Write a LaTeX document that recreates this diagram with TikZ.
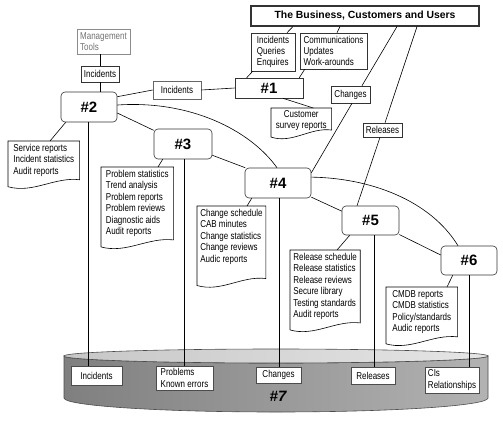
\documentclass[tikz,border=0pt]{standalone}
\usepackage{fontspec}
\setmainfont{Liberation Sans}[FakeStretch=0.8]
\newfontfamily\numfont{Liberation Sans}
\usetikzlibrary{calc}

\begin{document}
\begin{tikzpicture}[
    x=1pt, y=1pt,
    font=\fontsize{10}{11.4}\selectfont,
    line width=0.6pt,
    procnode/.style={rectangle, draw=black!80, fill=white, rounded corners=4pt, minimum width=57pt, minimum height=30pt, inner sep=0pt, font=\numfont\bfseries\fontsize{15}{17}\selectfont},
    flowbox/.style={rectangle, draw=black!80, fill=white, inner sep=2pt, align=left},
    docnode/.style={rectangle, anchor=north west, inner xsep=3pt, inner ysep=3pt, align=left},
    dbbox/.style={flowbox, draw=black!70}
]
\useasboundingbox (0,0) rectangle (503,-426);

\shadedraw[left color=black!50, middle color=black!34, right color=black!30, draw=black!70] (64,-356) -- (64,-398) arc[start angle=180, end angle=360, x radius=212, y radius=14] -- (488,-356) arc[start angle=0, end angle=-180, x radius=212, y radius=7] -- cycle;
\shadedraw[left color=black!22, right color=black!10, draw=black!70] (276,-356) ellipse[x radius=212, y radius=7];

\node[dbbox, minimum width=51pt, minimum height=19pt] (cinc) at (96.5,-375.5) {Incidents};
\node[dbbox, minimum width=57pt, minimum height=24pt] (cprb) at (184.5,-378) {Problems\\Known errors};
\node[dbbox, minimum width=45pt, minimum height=16pt] (cchg) at (278.5,-375) {Changes};
\node[dbbox, minimum width=44pt, minimum height=17pt] (crel) at (373,-375.5) {Releases};
\node[dbbox, minimum width=54pt, minimum height=26pt] (ccis) at (452,-380) {CIs\\Relationships};
\node[font=\numfont\bfseries\itshape\fontsize{15}{17}\selectfont] (n7) at (278,-396) {\#7};

\node[procnode, sharp corners, minimum width=68pt, minimum height=20pt] (n1) at (269,-88) {\#1};
\node[procnode, minimum width=56pt] (n2) at (89,-107) {\#2};
\node[procnode, minimum width=58pt] (n3) at (183,-144) {\#3};
\node[procnode, minimum width=66pt] (n4) at (278,-183) {\#4};
\node[procnode, minimum height=29pt] (n5) at (370.5,-220.5) {\#5};
\node[procnode, minimum width=56pt, minimum height=29pt] (n6) at (469,-260.5) {\#6};

\node[flowbox, draw=black!45, text=black!55, minimum width=53pt, minimum height=25pt] (mgmt) at (103.5,-41.5) {Management\\Tools};
\node[flowbox, minimum width=38pt, minimum height=16pt] (inc2) at (100,-74) {Incidents};
\node[flowbox, draw=black!60, minimum width=48pt, minimum height=18pt] (inc1) at (177,-90) {Incidents};
\node[flowbox, line width=1.1pt, minimum width=228pt, minimum height=20pt, font=\numfont\bfseries\fontsize{10.4}{12}\selectfont] (biz) at (365,-16) {The Business, Customers and Users};
\node[flowbox, minimum width=44pt, minimum height=38pt] (iqe) at (273,-52) {Incidents\\Queries\\Enquires};
\node[flowbox, minimum width=67pt, minimum height=36pt] (cuw) at (333.5,-51) {Communications\\Updates\\Work-arounds};
\node[flowbox, minimum width=39pt, minimum height=17pt] (chg) at (350.5,-94.5) {Changes};
\node[flowbox, minimum width=39pt, minimum height=14pt] (rel) at (382.5,-130) {Releases};

\node[docnode, align=center, minimum width=60pt, inner ysep=2pt] (cust) at (271,-108) {Customer\\survey reports};
\node[docnode, minimum width=71pt] (d2) at (8,-141) {Service reports\\Incident statistics\\Audit reports};
\node[docnode, minimum width=72pt] (d3) at (101,-167) {Problem statistics\\Trend analysis\\Problem reports\\Problem reviews\\Diagnostic aids\\Audit reports};
\node[docnode, minimum width=66pt] (d4) at (197,-206) {Change schedule\\CAB minutes\\Change statistics\\Change reviews\\Audic reports};
\node[docnode, minimum width=69pt] (d5) at (290,-250) {Release schedule\\Release statistics\\Release reviews\\Secure library\\Testing standards\\Audit reports};
\node[docnode, minimum width=71pt] (d6) at (386,-287) {CMDB reports\\CMDB statistics\\Policy/standards\\Audic reports};

\foreach \dd/\ext in {d2/0, d3/0, d4/-11, d5/0, d6/0, cust/3}
  \draw (\dd.north west) -- ($(\dd.south west)+(0,\ext-7)$) .. controls ($(\dd.south west)!0.35!(\dd.south east)+(0,\ext-14)$) and ($(\dd.south west)!0.65!(\dd.south east)+(0,\ext+3)$) .. ($(\dd.south east)+(0,\ext)$) -- (\dd.north east) -- cycle;

\draw (inc2.north |- mgmt.south) -- (inc2.north);
\draw (inc2.south) -- (inc2.south |- n2.north);
\draw (n2.20) -- (inc1.west);
\draw (inc1.east) -- (n1.west);
\draw (n2.-12) -- (n3.155);
\draw (n3.-21) -- (n4.155);
\draw (n4.-23) -- (n5.162);
\draw (n5.-26) -- (n6.169);
\draw (n2.4) .. controls (190,-100) and (250,-130) .. ([xshift=-1pt]n4.north);
\draw (n4.10) .. controls (370,-178) and (430,-200) .. ([xshift=-11pt]n6.north);

\draw ([xshift=14pt]iqe.north) -- ([xshift=-72pt]biz.south);
\draw ([xshift=3.5pt]cuw.north) -- ([xshift=-25pt]biz.south);
\draw ([xshift=2pt]iqe.south west) -- ([xshift=12pt]n1.north west);
\draw ([xshift=5pt]cuw.south west) -- ([xshift=-4pt]n1.north east);
\draw ([xshift=14pt]n1.south) -- ([xshift=12pt]cust.north);
\draw ([xshift=32pt]biz.south) -- ([xshift=11.5pt]chg.north);
\draw ([xshift=1.5pt]chg.south) -- (n4.17);
\draw ([xshift=52pt]biz.south) -- ([xshift=2.5pt]rel.north);
\draw ([xshift=-2.5pt]rel.south) -- ([xshift=-13.5pt]n5.north);

\draw ([xshift=5pt]n2.south west) -- ([xshift=42pt]d2.north west);
\draw ([xshift=9pt]n3.south west) -- ([xshift=57pt]d3.north west);
\draw ([xshift=7pt]n4.south west) -- ([xshift=50pt]d4.north west);
\draw ([xshift=8pt]n5.south west) -- ([xshift=47pt]d5.north west);
\draw ([xshift=12pt]n6.south west) -- ([xshift=61pt]d6.north west);

\foreach \a/\b/\s in {n2/cinc/-1, n3/cprb/1, n4/cchg/1, n5/crel/4, n6/ccis/0} {
  \coordinate (t) at ([xshift=\s pt]\a.south);
  \draw (t) -- (t |- \b.north);
}
\end{tikzpicture}
\end{document}
